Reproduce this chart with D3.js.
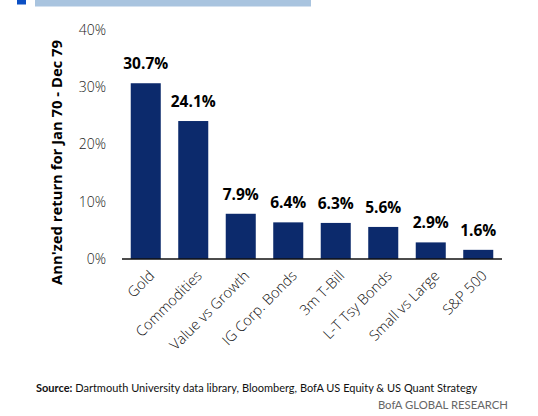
<!DOCTYPE html>
<html>
<head>
<meta charset="utf-8">
<script src="https://cdn.jsdelivr.net/npm/d3@7"></script>
<style>
  body { margin: 0; background: #fff; }
  svg text { font-family: "Open Sans", "Noto Sans", sans-serif; }
  .tick text { font-weight: 300; font-size: 14px; fill: #222; }
  .value-label { font-weight: 700; font-size: 15.5px; fill: #000; }
  .note { font-family: Lato, "Open Sans", sans-serif; }
</style>
</head>
<body>
<div id="chart"></div>
<script>
// data
const categories = ['Gold', 'Commodities', 'Value vs Growth', 'IG Corp. Bonds', '3m T-Bill', 'L-T Tsy Bonds', 'Small vs Large', 'S&P 500'];
const returns = [30.7, 24.1, 7.9, 6.4, 6.3, 5.6, 2.9, 1.6];
const yTicks = [0, 10, 20, 30, 40];

const width = 538, height = 416;
const svg = d3.select('#chart').append('svg')
  .attr('width', width)
  .attr('height', height);

// header strip (cut off at the top of the crop)
svg.append('rect').attr('x', 17).attr('y', 0).attr('width', 9).attr('height', 4.5).attr('fill', '#0b4fc4');
svg.append('rect').attr('x', 35).attr('y', 0).attr('width', 276).attr('height', 6.5).attr('fill', '#a9c4df');

const data = categories.map((c, i) => ({ name: c, value: returns[i] }));

const x = d3.scaleBand()
  .domain(categories)
  .range([122, 502])
  .paddingInner(0.368)
  .paddingOuter(0.184);

const y = d3.scaleLinear()
  .domain([0, 40])
  .range([259, 30]);

// bars
svg.append('g').selectAll('rect')
  .data(data)
  .join('rect')
  .attr('x', d => x(d.name))
  .attr('y', d => y(d.value))
  .attr('width', x.bandwidth())
  .attr('height', d => y(0) - y(d.value))
  .attr('fill', '#0c2a6c');

// value labels
svg.append('g').selectAll('text')
  .data(data)
  .join('text')
  .attr('class', 'value-label')
  .attr('x', d => x(d.name) + x.bandwidth() / 2)
  .attr('y', d => y(d.value) - 14)
  .attr('text-anchor', 'middle')
  .text(d => d.value.toFixed(1) + '%');

// y axis: labels only
const yAxis = svg.append('g')
  .attr('transform', 'translate(106,0)')
  .call(d3.axisLeft(y).tickValues(yTicks).tickSize(0).tickPadding(0).tickFormat(d => d + '%'));
yAxis.select('.domain').remove();

// baseline
svg.append('line')
  .attr('x1', 122).attr('x2', 502)
  .attr('y1', y(0)).attr('y2', y(0))
  .attr('stroke', '#111')
  .attr('stroke-width', 1.5);

// x labels, rotated
svg.append('g').selectAll('text')
  .data(categories)
  .join('text')
  .attr('class', 'x-label')
  .attr('transform', d => `translate(${x(d) + x.bandwidth() / 2 + 6},${y(0) + 14}) rotate(-45)`)
  .attr('text-anchor', 'end')
  .attr('dy', '0.35em')
  .style('font-size', '14.5px')
  .style('font-weight', 300)
  .style('fill', '#111')
  .text(d => d);

// y title
svg.append('text')
  .attr('transform', 'translate(62,285) rotate(-90)')
  .attr('text-anchor', 'start')
  .attr('textLength', 245)
  .attr('lengthAdjust', 'spacingAndGlyphs')
  .style('font-size', '14px')
  .style('font-weight', 700)
  .text("Ann'zed return for Jan 70 - Dec 79");

// source note
const src = svg.append('text')
  .attr('class', 'note')
  .attr('x', 36)
  .attr('y', 392)
  .style('font-size', '11px')
  .style('fill', '#111');
src.append('tspan').style('font-weight', 700).text('Source:');
src.append('tspan').style('font-weight', 400).text(' Dartmouth University data library, Bloomberg, BofA US Equity & US Quant Strategy');

svg.append('text')
  .attr('class', 'note')
  .attr('x', 508)
  .attr('y', 409)
  .attr('text-anchor', 'end')
  .style('font-size', '11.3px')
  .style('fill', '#666')
  .text('BofA GLOBAL RESEARCH');
</script>
</body>
</html>
